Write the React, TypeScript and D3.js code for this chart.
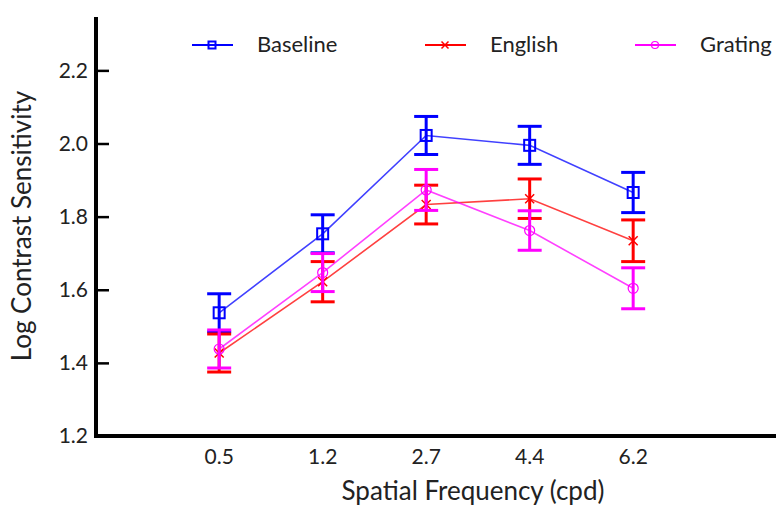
import { useEffect, useRef } from "react";
import * as d3 from "d3";

const categories = ["0.5", "1.2", "2.7", "4.4", "6.2"];
const yTicks = [1.2, 1.4, 1.6, 1.8, 2.0, 2.2];

const baseline = [1.537, 1.753, 2.022, 1.995, 1.866];
const baselineErr = [0.052, 0.052, 0.052, 0.052, 0.055];
const english = [1.427, 1.622, 1.833, 1.849, 1.734];
const englishErr = [0.052, 0.055, 0.053, 0.054, 0.057];
const grating = [1.438, 1.647, 1.873, 1.762, 1.604];
const gratingErr = [0.052, 0.052, 0.056, 0.054, 0.056];

const series = [
  { name: "Baseline", color: "#0000ff", marker: "square", values: baseline, err: baselineErr },
  { name: "English", color: "#ff0000", marker: "cross", values: english, err: englishErr },
  { name: "Grating", color: "#ff00ff", marker: "circle", values: grating, err: gratingErr },
];

export default function App() {
  const svgRef = useRef<SVGSVGElement>(null);

  useEffect(() => {
    const width = 776;
    const height = 508;
    const left = 96;
    const bottom = 436;
    const top = 17;

    const svg = d3.select(svgRef.current);
    svg.selectAll("*").remove();
    const font = "Lato, 'Open Sans', sans-serif";

    const x = d3.scaleLinear().domain([-1.19, 5.38]).range([left, width]);
    const y = d3.scaleLinear().domain([1.2, 2.346]).range([bottom, top]);

    // y axis
    const yAxis = svg.append("g")
      .attr("transform", `translate(${left},0)`)
      .call(d3.axisRight(y).tickValues(yTicks).tickSize(13).tickFormat(d3.format(".1f")).tickSizeOuter(0));
    yAxis.select(".domain").remove();
    yAxis.selectAll("line").attr("stroke", "#000").attr("stroke-width", 2.5);
    yAxis.selectAll("text")
      .attr("x", -8)
      .attr("text-anchor", "end")
      .attr("font-family", font)
      .attr("font-size", 21)
      .attr("fill", "#222");

    svg.append("line")
      .attr("x1", left).attr("x2", left)
      .attr("y1", top).attr("y2", bottom + 2)
      .attr("stroke", "#000").attr("stroke-width", 4);
    svg.append("line")
      .attr("x1", left - 2).attr("x2", width)
      .attr("y1", bottom).attr("y2", bottom)
      .attr("stroke", "#000").attr("stroke-width", 4);

    // x labels
    svg.append("g").selectAll("text")
      .data(categories)
      .enter()
      .append("text")
      .attr("x", (d, i) => x(i))
      .attr("y", 464)
      .attr("text-anchor", "middle")
      .attr("font-family", font)
      .attr("font-size", 21)
      .attr("fill", "#222")
      .text(d => d);

    svg.append("text")
      .attr("x", 473).attr("y", 500)
      .attr("text-anchor", "middle")
      .attr("font-family", font)
      .attr("font-size", 26)
      .attr("fill", "#222")
      .text("Spatial Frequency (cpd)");

    svg.append("text")
      .attr("transform", "translate(31,226) rotate(-90)")
      .attr("text-anchor", "middle")
      .attr("font-family", font)
      .attr("font-size", 26)
      .attr("fill", "#222")
      .text("Log Contrast Sensitivity");

    const drawMarker = (g: any, type: string, cx: number, cy: number, color: string, s: number) => {
      if (type === "square") {
        g.append("rect")
          .attr("x", cx - s / 2).attr("y", cy - s / 2)
          .attr("width", s).attr("height", s)
          .attr("fill", "none").attr("stroke", color).attr("stroke-width", 2);
      } else if (type === "cross") {
        const h = s / 2;
        g.append("path")
          .attr("d", `M${cx - h},${cy - h}L${cx + h},${cy + h}M${cx - h},${cy + h}L${cx + h},${cy - h}`)
          .attr("stroke", color).attr("stroke-width", 1.5).attr("fill", "none");
      } else {
        g.append("circle")
          .attr("cx", cx).attr("cy", cy).attr("r", s / 2)
          .attr("fill", "none").attr("stroke", color).attr("stroke-width", 1.2);
      }
    };

    const line = d3.line<number>().x((d, i) => x(i)).y(d => y(d));

    series.forEach(s => {
      const g = svg.append("g");
      g.append("path")
        .datum(s.values)
        .attr("d", line)
        .attr("fill", "none")
        .attr("stroke", s.color)
        .attr("stroke-opacity", 0.75)
        .attr("stroke-width", 1.6);

      s.values.forEach((v, i) => {
        const cx = x(i);
        const y1 = y(v + s.err[i]);
        const y2 = y(v - s.err[i]);
        g.append("line")
          .attr("x1", cx).attr("x2", cx).attr("y1", y1).attr("y2", y2)
          .attr("stroke", s.color).attr("stroke-width", 3);
        [y1, y2].forEach(yy => {
          g.append("line")
            .attr("x1", cx - 12).attr("x2", cx + 12).attr("y1", yy).attr("y2", yy)
            .attr("stroke", s.color).attr("stroke-width", 3);
        });
        drawMarker(g, s.marker, cx, y(v), s.color, s.marker === "circle" ? 10 : s.marker === "cross" ? 9 : 11);
      });
    });

    // legend
    const legendX = [192, 425, 635];
    series.forEach((s, i) => {
      const lx = legendX[i];
      const ly = 45;
      const g = svg.append("g");
      g.append("line")
        .attr("x1", lx).attr("x2", lx + 41).attr("y1", ly).attr("y2", ly)
        .attr("stroke", s.color).attr("stroke-width", 2);
      drawMarker(g, s.marker, lx + 20, ly, s.color, 7);
      g.append("text")
        .attr("x", lx + 65).attr("y", ly + 7)
        .attr("font-family", font)
        .attr("font-size", 22)
        .attr("fill", "#222")
        .text(s.name);
    });
  }, []);

  return (
    <svg ref={svgRef} width={776} height={508} style={{ display: "block", position: "absolute", left: 0, top: 0 }}></svg>
  );
}
